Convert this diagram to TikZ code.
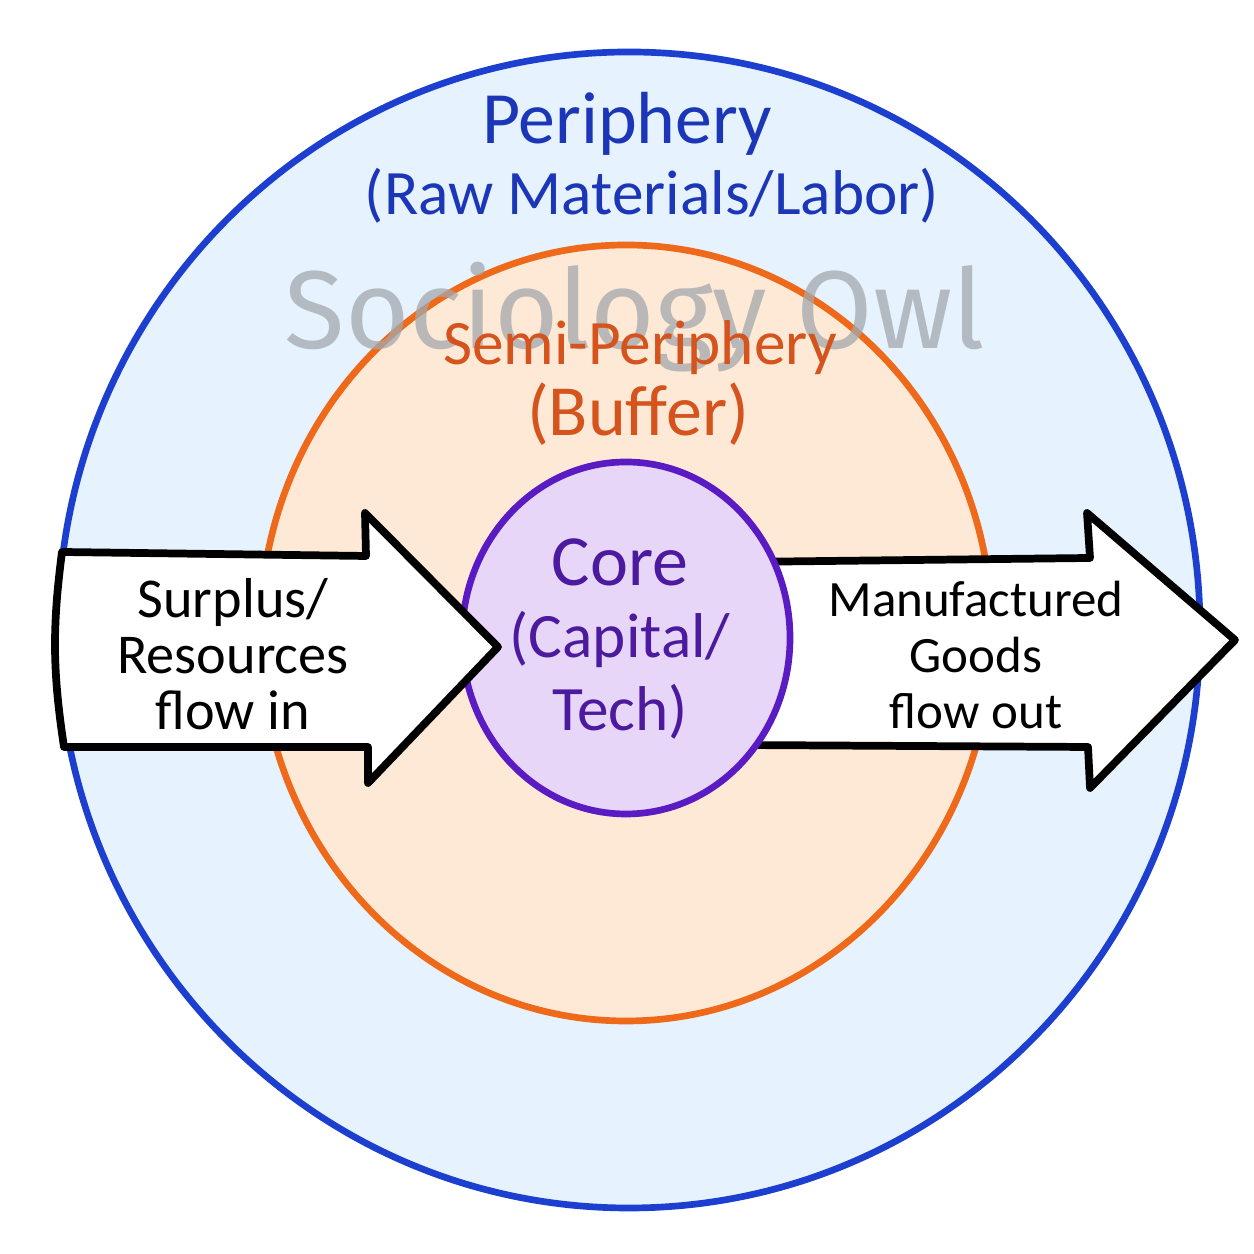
\documentclass[tikz,border=0pt]{standalone}
\usepackage{fontspec}
\setmainfont{Carlito}
\newfontfamily\owlfont{Fira Sans}
\usetikzlibrary{shapes.geometric}
\definecolor{periblue}{HTML}{1D3FD0}
\definecolor{perifill}{HTML}{E6F2FD}
\definecolor{semiorange}{HTML}{EE6A1A}
\definecolor{semifill}{HTML}{FEE9D6}
\definecolor{corepurple}{HTML}{5A1CC2}
\definecolor{corefill}{HTML}{E8D6F8}
\definecolor{peritext}{HTML}{1C36B8}
\definecolor{semitext}{HTML}{D5531C}
\definecolor{coretext}{HTML}{4B1A9E}
\definecolor{owlgray}{HTML}{A3A8AD}
\tikzset{%
    ring/.style={ellipse, inner sep=0pt, outer sep=0pt, line width=1.9pt},
    flow/.style={draw=black, fill=white, line width=2.2pt, line join=round},
    title/.style={font=\fontsize{21}{24}\selectfont},
    sub/.style={font=\fontsize{18}{20}\selectfont},
    flowtext/.style={align=center, font=\fontsize{16}{16}\selectfont}
}

\begin{document}
\begin{tikzpicture}
    \useasboundingbox (0,0) rectangle (12.54,12.54);
    \fill[white] (0,0) rectangle (12.54,12.54);
    % the three zones
    \node[ring, draw=periblue, fill=perifill, minimum width=11.42cm, minimum height=11.56cm] (periphery) at (6.29,6.24) {};
    \node[ring, draw=semiorange, fill=semifill, minimum width=7.32cm, minimum height=7.76cm] (semi) at (6.26,6.21) {};
    \node[owlgray, opacity=0.75, font=\owlfont\fontsize{31.5}{32}\selectfont] (owl) at (6.35,9.37) {Sociology Owl};
    % outgoing arrow sits under the core
    \draw[flow] (7.40,6.92) -- (10.90,6.96) -- (10.87,7.41) -- (12.35,6.14)
        -- (10.90,4.66) -- (10.88,5.07) -- (7.40,5.09) -- cycle;
    \node[ring, draw=corepurple, fill=corefill, minimum width=3.28cm, minimum height=3.52cm] (core) at (6.26,6.16) {};
    % incoming arrow
    \draw[flow] (0.62,7.02) -- (3.66,6.98) -- (3.65,7.41) -- (4.98,6.07)
        -- (3.68,4.71) -- (3.68,5.07) -- (0.64,5.07) to[bend left=8] cycle;

    \node[title, peritext] (peri) at (6.27,11.30) {Periphery};
    \node[sub, peritext] (perisub) at (6.52,10.58) {(Raw Materials/Labor)};
    \node[sub, semitext] (semilbl) at (6.40,9.06) {Semi-Periphery};
    \node[sub, semitext, font=\fontsize{20.5}{22}\selectfont] (semisub) at (6.38,8.40) {(Buffer)};
    \node[coretext, align=center, font=\fontsize{18}{20.5}\selectfont] (corelbl) at (6.20,6.15)
        {{\fontsize{20.5}{20.5}\selectfont Core}\\(Capital/\\Tech)};
    \node[flowtext] (inlbl) at (2.33,6.00) {Surplus/\\Resources\\flow in};
    \node[flowtext, font=\fontsize{14.5}{16}\selectfont] (outlbl) at (9.76,5.99) {Manufactured\\Goods\\flow\ out};
\end{tikzpicture}
\end{document}
